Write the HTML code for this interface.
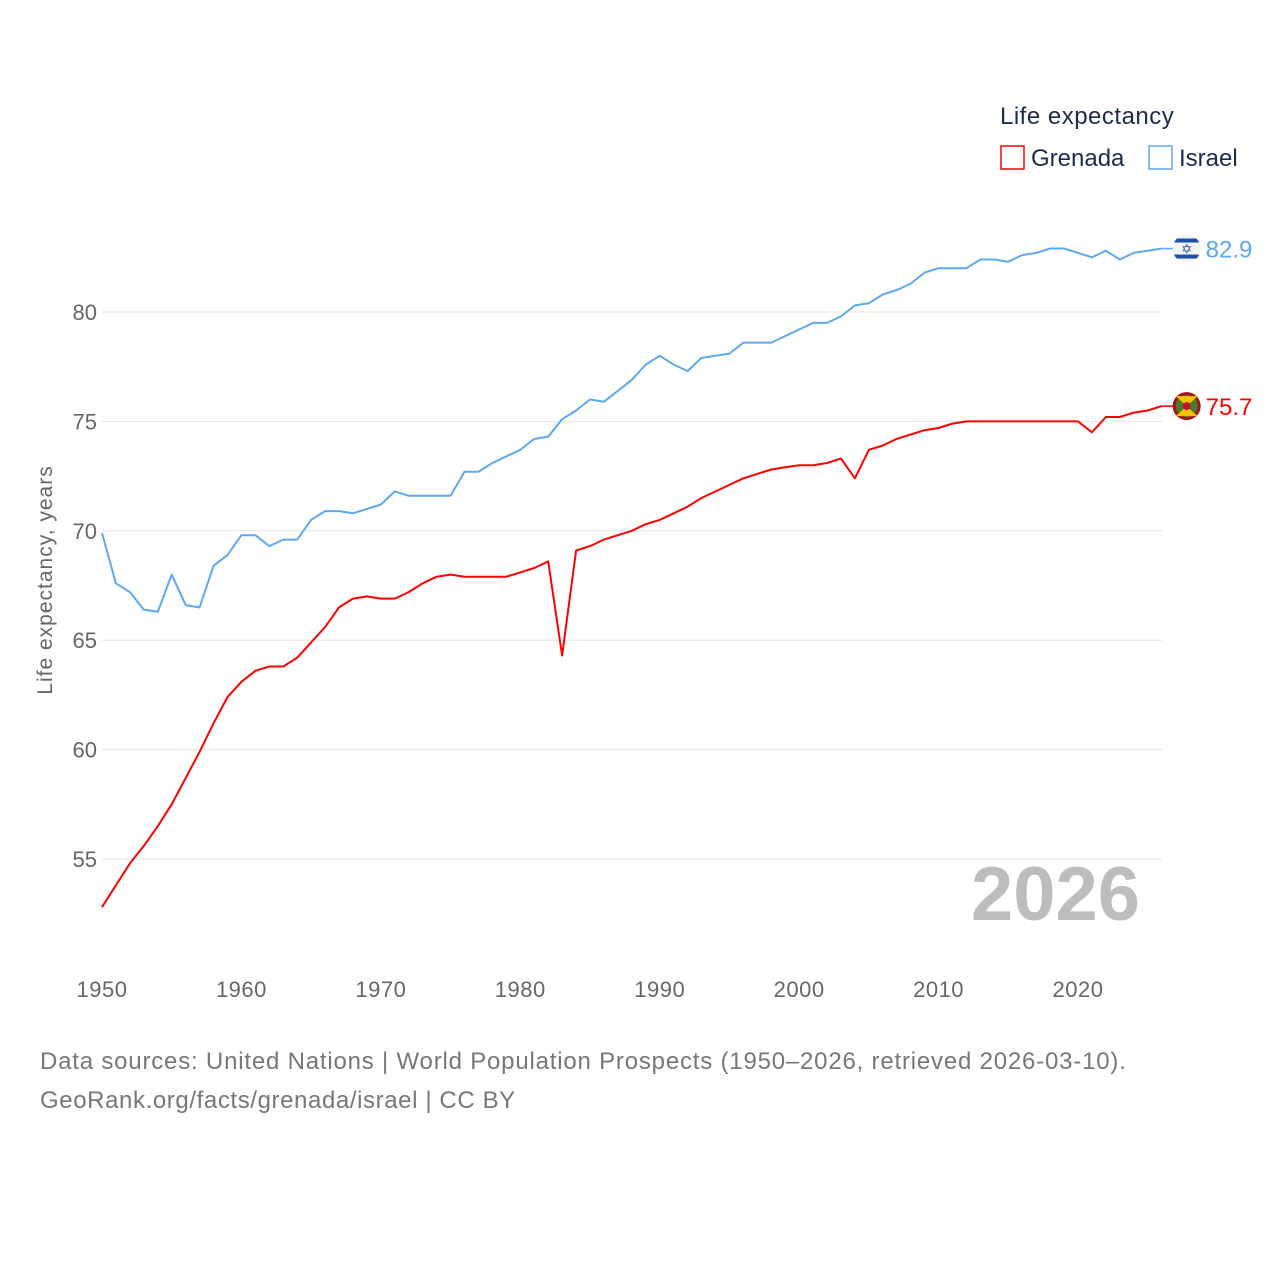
<!DOCTYPE html>
<html><head><meta charset="utf-8"><style>
body{margin:0;background:#fff;font-family:"Liberation Sans",sans-serif}
svg{display:block}
</style></head><body>
<svg id="chart" width="1280" height="1280">
<defs><clipPath id="c1"><circle cx="1187" cy="249" r="14"/></clipPath></defs>
<g id="grid"></g>
<g id="ylabels"></g>
<g id="xlabels"></g>
<text x="52" y="580" transform="rotate(-90 52 580)" text-anchor="middle" font-size="21" letter-spacing="1" fill="#666">Life expectancy, years</text>
<text x="1140" y="920" text-anchor="end" font-size="76" font-weight="bold" fill="#bdbdbd">2026</text>
<g id="series"></g>
<text x="1000" y="124" font-size="24" letter-spacing="0.5" fill="#1d2b4a">Life expectancy</text>
<g><rect x="1001" y="146" width="23" height="23" fill="none" stroke="#ff0000" stroke-width="1.5"/><text x="1031" y="166" font-size="24" fill="#1d2b4a">Grenada</text></g>
<g><rect x="1149" y="146" width="23" height="23" fill="none" stroke="#5ea8ef" stroke-width="1.5"/><text x="1179" y="166" font-size="24" fill="#1d2b4a">Israel</text></g>
<text x="40" y="1069" font-size="24" letter-spacing="0.8" fill="#777">Data sources: United Nations | World Population Prospects (1950–2026, retrieved 2026-03-10).</text>
<text x="40" y="1108" font-size="24" letter-spacing="0.6" fill="#777">GeoRank.org/facts/grenada/israel | CC BY</text>
</svg>
<script>
const years=[];for(let y=1950;y<=2026;y++)years.push(y);
const israel=[69.9,67.6,67.2,66.4,66.3,68.0,66.6,66.5,68.4,68.9,69.8,69.8,69.3,69.6,69.6,70.5,70.9,70.9,70.8,71.0,71.2,71.8,71.6,71.6,71.6,71.6,72.7,72.7,73.1,73.4,73.7,74.2,74.3,75.1,75.5,76.0,75.9,76.4,76.9,77.6,78.0,77.6,77.3,77.9,78.0,78.1,78.6,78.6,78.6,78.9,79.2,79.5,79.5,79.8,80.3,80.4,80.8,81.0,81.3,81.8,82.0,82.0,82.0,82.4,82.4,82.3,82.6,82.7,82.9,82.9,82.7,82.5,82.8,82.4,82.7,82.8,82.9];
const grenada=[52.8,53.8,54.8,55.6,56.5,57.5,58.7,59.9,61.2,62.4,63.1,63.6,63.8,63.8,64.2,64.9,65.6,66.5,66.9,67.0,66.9,66.9,67.2,67.6,67.9,68.0,67.9,67.9,67.9,67.9,68.1,68.3,68.6,64.3,69.1,69.3,69.6,69.8,70.0,70.3,70.5,70.8,71.1,71.5,71.8,72.1,72.4,72.6,72.8,72.9,73.0,73.0,73.1,73.3,72.4,73.7,73.9,74.2,74.4,74.6,74.7,74.9,75.0,75.0,75.0,75.0,75.0,75.0,75.0,75.0,75.0,74.5,75.2,75.2,75.4,75.5,75.7];
const yTicks=[55,60,65,70,75,80];
const xTicks=[1950,1960,1970,1980,1990,2000,2010,2020];
const X=y=>102+(y-1950)*976/70;
const Y=v=>312+(80-v)*547/25;
const NS='http://www.w3.org/2000/svg';
function mk(tag,attrs,parent,txt){const e=document.createElementNS(NS,tag);for(const k in attrs)e.setAttribute(k,attrs[k]);if(txt!==undefined)e.textContent=txt;parent.appendChild(e);return e;}
const grid=document.getElementById('grid'),yl=document.getElementById('ylabels'),xl=document.getElementById('xlabels'),ser=document.getElementById('series');
yTicks.forEach(t=>{
const l=mk('line',{x1:102,x2:1162,y1:Y(t),y2:Y(t),stroke:'#e6e6e6','stroke-width':1},grid);


const tx=mk('text',{x:97,y:Y(t)+8,'text-anchor':'end','font-size':22,fill:'#666'},yl,String(t));


});
xTicks.forEach(t=>{
const tx=mk('text',{x:X(t),y:997,'text-anchor':'middle','font-size':22,'letter-spacing':0.5,fill:'#666'},xl,String(t));


});
function line(vals,color,name){
const d=vals.map((v,i)=>(i?'L':'M')+X(years[i]).toFixed(1)+','+Y(v).toFixed(1)).join('');
const p=mk('path',{d:d,fill:'none',stroke:color,'stroke-width':2,'stroke-linejoin':'round'},ser);


const last=vals[vals.length-1],lx=X(years[years.length-1]),ly=Y(last);
mk('line',{x1:lx,x2:lx+12,y1:ly,y2:ly,stroke:color,'stroke-width':1.5},ser);
const g=mk('g',{},ser);


const cx=lx+25;
if(name==='israel'){
const cp=document.getElementById('c1').firstChild;cp.setAttribute('cx',cx);cp.setAttribute('cy',ly);
g.setAttribute('clip-path','url(#c1)');
mk('circle',{cx:cx,cy:ly,r:14,fill:'#f2f2f2'},g);
mk('rect',{x:cx-14,y:ly-10,width:28,height:4,fill:'#1f4fa8'},g);
mk('rect',{x:cx-14,y:ly+6,width:28,height:4,fill:'#1f4fa8'},g);
mk('text',{x:cx,y:ly+5,'text-anchor':'middle','font-size':13,fill:'#1f4fa8'},g,'✡');
}else{
mk('circle',{cx:cx,cy:ly,r:14,fill:'#a8101a'},g);
mk('circle',{cx:cx,cy:ly,r:11,fill:'#4a7a2a'},g);
mk('path',{d:`M${cx-11},${ly-10}L${cx+11},${ly-10}L${cx},${ly}Z M${cx-11},${ly+10}L${cx+11},${ly+10}L${cx},${ly}Z`,fill:'#f5c400'},g);
mk('circle',{cx:cx,cy:ly,r:4,fill:'#c8102e'},g);
}
const t=mk('text',{x:lx+44,y:ly+9,'font-size':24,fill:color},ser,last.toFixed(1));


}
line(israel,'#5ea8ef','israel');
line(grenada,'#ff0000','grenada');
</script>
</body></html>
